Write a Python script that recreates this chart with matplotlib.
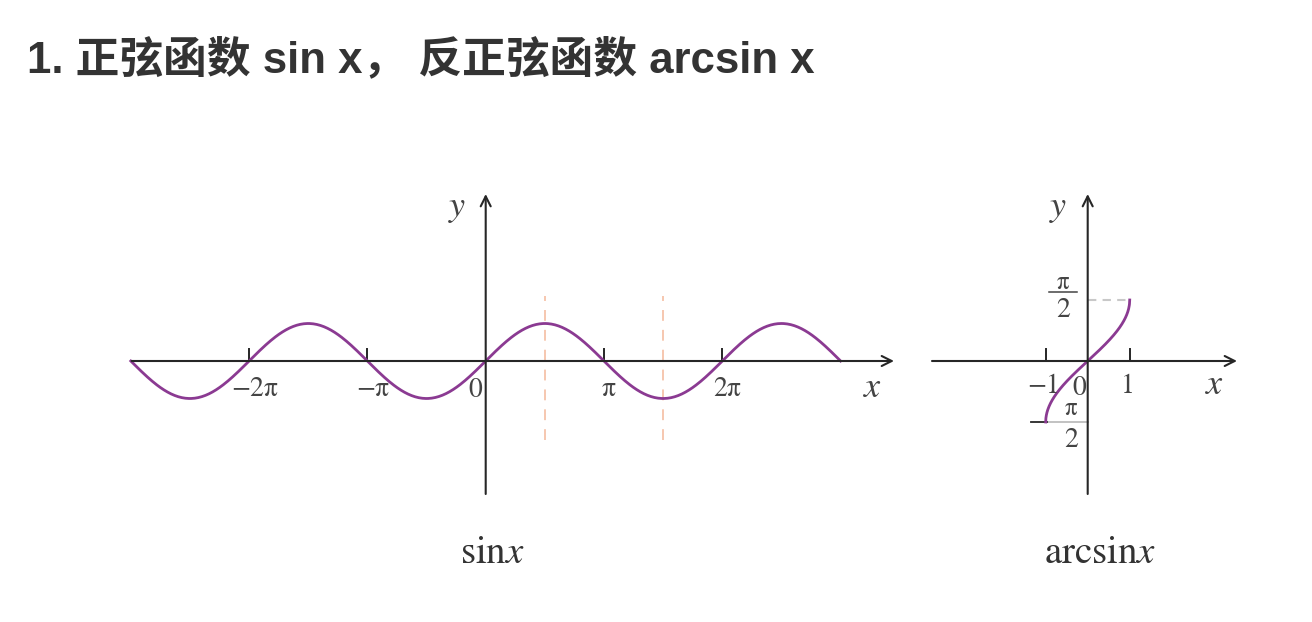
import numpy as np
import matplotlib
matplotlib.use('Agg')
import matplotlib.pyplot as plt

plt.rcParams['mathtext.fontset'] = 'stix'
plt.rcParams['font.family'] = ['Liberation Sans', 'Noto Sans CJK SC', 'DejaVu Sans']

# data
title = '1. 正弦函数 sin x， 反正弦函数 arcsin x'
sin_domain = [-3 * np.pi, 3 * np.pi]
sin_ticks = [-2 * np.pi, -np.pi, np.pi, 2 * np.pi]
sin_ticklabels = ['\u22122π', '\u2212π', 'π', '2π']
sin_guides = [np.pi / 2, 3 * np.pi / 2]
asin_domain = [-1, 1]
asin_ticks = [-1, 1]
asin_ticklabels = ['\u22121', '1']

W, H = 1312, 622
fig = plt.figure(figsize=(W / 100, H / 100), dpi=100)

AX_C = '#262626'
LBL_C = '#444444'
CURVE_C = '#8b3a92'
SERIF = 'STIXGeneral'


def px_axes(box, origin, xs, ys):
    x0, y0, x1, y1 = box
    ax = fig.add_axes([x0 / W, 1 - y1 / H, (x1 - x0) / W, (y1 - y0) / H])
    ax.set_xlim((x0 - origin[0]) / xs, (x1 - origin[0]) / xs)
    ax.set_ylim((origin[1] - y1) / ys, (origin[1] - y0) / ys)
    ax.axis('off')
    return ax


def arrow(ax, p0, p1):
    ax.annotate('', xy=p1, xytext=p0,
                arrowprops=dict(arrowstyle='->', lw=1.5, color=AX_C,
                                shrinkA=0, shrinkB=0, mutation_scale=18))


# ---- sin x ----
xs1 = 118.3 / np.pi
ys1 = 37.5
ax1 = px_axes((100, 170, 910, 520), (485.7, 361), xs1, ys1)
arrow(ax1, ((131.7 - 485.7) / xs1, 0), ((894 - 485.7) / xs1, 0))
arrow(ax1, (0, (361 - 494) / ys1), (0, (361 - 194) / ys1))
for g in sin_guides:
    ax1.plot([g, g], [(361 - 440) / ys1, (361 - 296) / ys1], ls=(0, (6, 5)),
             color='#f6c3a9', lw=1.3)
for t, lab in zip(sin_ticks, sin_ticklabels):
    ax1.plot([t, t], [0, 12 / ys1], color=AX_C, lw=1.4)
    ax1.text(t + 5 / xs1, -0.75, lab, ha='center', va='center', fontsize=20,
             color=LBL_C, family=SERIF)
ax1.text(-4 / xs1, -0.78, '0', ha='right', va='center', fontsize=20,
         color=LBL_C, family=SERIF)
ax1.text((873 - 485.7) / xs1, -0.72, r'$x$', ha='center', va='center',
         fontsize=26, color=LBL_C)
ax1.text((457 - 485.7) / xs1, (361 - 208) / ys1, r'$y$', ha='center', va='center',
         fontsize=26, color=LBL_C)
x = np.linspace(sin_domain[0], sin_domain[1], 600)
ax1.plot(x, np.sin(x), color=CURVE_C, lw=2)
ax1.text((492 - 485.7) / xs1, (361 - 553) / ys1, r'$\mathrm{sin}x$', ha='center',
         va='center', fontsize=28, color='#333333')

# ---- arcsin x ----
xs2 = 42.0
ys2 = 61.0 / (np.pi / 2)
ax2 = px_axes((915, 170, 1260, 520), (1087.7, 361), xs2, ys2)
arrow(ax2, ((932 - 1087.7) / xs2, 0), ((1237 - 1087.7) / xs2, 0))
arrow(ax2, (0, (361 - 494) / ys2), (0, (361 - 194) / ys2))
ax2.plot([0, 1], [np.pi / 2, np.pi / 2], ls=(0, (4, 3)), color='#c8c8c8', lw=1.5)
ax2.plot([-1, 0], [-np.pi / 2, -np.pi / 2], color='#bdbdbd', lw=1.3)
for t, lab in zip(asin_ticks, asin_ticklabels):
    ax2.plot([t, t], [0, 12 / ys2], color=AX_C, lw=1.4)
    ax2.text(t - 2 / xs2, (361 - 386) / ys2, lab, ha='center', va='center',
             fontsize=20, color=LBL_C, family=SERIF)
ax2.text(-2 / xs2, (361 - 388) / ys2, '0', ha='right', va='center',
         fontsize=20, color=LBL_C, family=SERIF)
ax2.text((1215 - 1087.7) / xs2, (361 - 385) / ys2, r'$x$', ha='center',
         va='center', fontsize=26, color=LBL_C)
ax2.text((1058 - 1087.7) / xs2, (361 - 208) / ys2, r'$y$', ha='center',
         va='center', fontsize=26, color=LBL_C)


def px2(px, py):
    return (px - 1087.7) / xs2, (361 - py) / ys2


# fraction labels pi/2 and -pi/2
ax2.text(*px2(1063, 283), 'π', ha='center', va='center', fontsize=18,
         color=LBL_C, family=SERIF)
ax2.plot(*zip(px2(1049, 292.5), px2(1077, 292.5)), color=LBL_C, lw=1.1)
ax2.text(*px2(1063, 310), '2', ha='center', va='center', fontsize=20,
         color=LBL_C, family=SERIF)
ax2.text(*px2(1071, 409), 'π', ha='center', va='center', fontsize=18,
         color=LBL_C, family=SERIF)
ax2.plot(*zip(px2(1031, 422), px2(1047, 422)), color=AX_C, lw=1.3)
ax2.text(*px2(1071, 440), '2', ha='center', va='center', fontsize=20,
         color=LBL_C, family=SERIF)

u = np.linspace(asin_domain[0], asin_domain[1], 400)
ax2.plot(u, np.arcsin(u), color=CURVE_C, lw=2)
ax2.text((1100 - 1087.7) / xs2, (361 - 553) / ys2, r'$\mathrm{arcsin}x$',
         ha='center', va='center', fontsize=28, color='#333333')

fig.text(27 / W, 1 - 72 / H, title, fontsize=31.5, fontweight='bold',
         color='#333333', va='baseline', ha='left')

fig.savefig('out.png', dpi=100, facecolor='white')
